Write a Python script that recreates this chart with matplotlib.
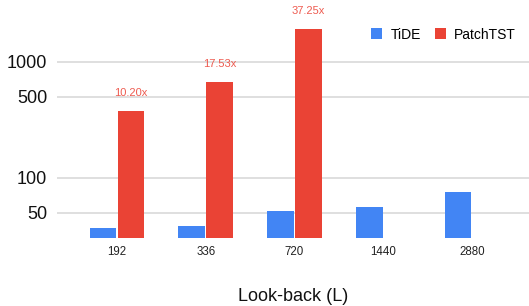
import matplotlib
matplotlib.use("Agg")
import matplotlib.pyplot as plt
import numpy as np
from matplotlib.ticker import FixedLocator, FixedFormatter, NullLocator

categories = ["192", "336", "720", "1440", "2880"]
tide = [37, 38.5, 51.5, 56.5, 75]
patchtst = [377, 675, 1918, np.nan, np.nan]
ratio_labels = ["10.20x", "17.53x", "37.25x", None, None]
yticks = [50, 100, 500, 1000]
ytick_labels = ["50", "100", "500", "1000"]

plt.rcParams['font.family'] = ['Liberation Sans', 'DejaVu Sans']

W, H = 529, 306
fig = plt.figure(figsize=(W/100, H/100), dpi=100)
ax = fig.add_axes([57/W, 1 - 238/H, (529-57)/W, 238/H])

x = np.arange(len(categories))
w = 0.30
off = 0.158
blue = '#4285F4'
red = '#EA4335'
ax.bar(x - off, tide, width=w, color=blue, zorder=3, label='TiDE')
ax.bar(x + off, patchtst, width=w, color=red, zorder=3, label='PatchTST')

for xi, v, lab in zip(x, patchtst, ratio_labels):
    if lab is not None and not np.isnan(v):
        ax.annotate(lab, (xi + off, v), xytext=(0, 13), textcoords='offset points',
                    ha='center', va='center', fontsize=8, color='#EE5B50')

ax.set_yscale('log')
ax.set_ylim(30.4, 3420)
ax.set_xlim(-0.676, 4.642)
ax.yaxis.set_major_locator(FixedLocator(yticks))
ax.yaxis.set_major_formatter(FixedFormatter(ytick_labels))
ax.yaxis.set_minor_locator(NullLocator())
ax.set_xticks(x)
ax.set_xticklabels(categories, fontsize=8.3, color='#222222')
ax.tick_params(axis='y', labelsize=13, length=0, pad=7, labelcolor='#111111')
ax.tick_params(axis='x', length=0, pad=6)
for s in ax.spines.values():
    s.set_visible(False)
ax.grid(axis='y', color='#d9d9d9', linewidth=1.2, zorder=0)
ax.set_axisbelow(True)
ax.set_xlabel('Look-back (L)', fontsize=13, labelpad=21.5, color='#111111')

ax.legend(loc='upper right', bbox_to_anchor=(0.993, 0.925), ncol=2, frameon=False,
          fontsize=10, handlelength=0.8, handleheight=0.8, columnspacing=1.0,
          handletextpad=0.6, borderaxespad=0.3)

fig.savefig('out.png', dpi=100)
